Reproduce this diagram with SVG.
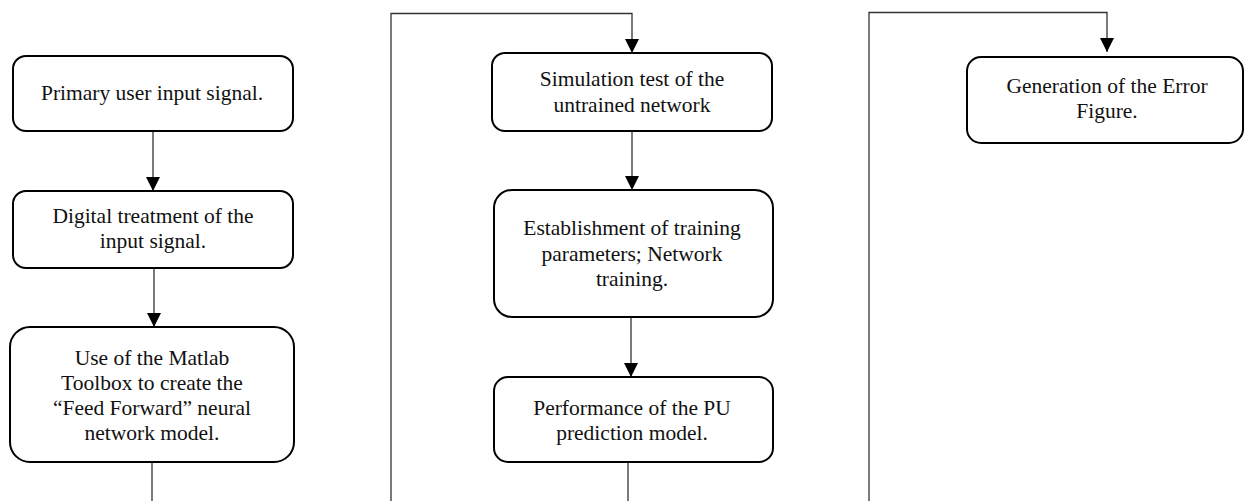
<svg xmlns="http://www.w3.org/2000/svg" width="1245" height="501" viewBox="0 0 1245 501">
<style>
.box{fill:#fff;stroke:#000;stroke-width:2}
.t{font-family:"Liberation Serif","Times New Roman",serif;font-size:21.5px;fill:#111;text-anchor:middle}
.c{fill:none;stroke:#333;stroke-width:1.3}
</style>
<defs>
<marker id="ah" markerWidth="14" markerHeight="14" refX="14" refY="7" orient="auto" markerUnits="userSpaceOnUse">
<path d="M0,0 L14,7 L0,14 Z" fill="#000"/>
</marker>
</defs>
<rect width="1245" height="501" fill="#fff"/>
<g id="connectors">
<line class="c" x1="153" y1="131" x2="153" y2="191" marker-end="url(#ah)"/>
<line class="c" x1="154" y1="268" x2="154" y2="327" marker-end="url(#ah)"/>
<line class="c" x1="152" y1="462" x2="152" y2="501"/>
<polyline class="c" points="391,501 391,13.5 632,13.5 632,53" marker-end="url(#ah)"/>
<line class="c" x1="632" y1="131" x2="632" y2="190" marker-end="url(#ah)"/>
<line class="c" x1="631" y1="317" x2="631" y2="377" marker-end="url(#ah)"/>
<line class="c" x1="628" y1="462" x2="628" y2="501"/>
<polyline class="c" points="869,501 869,12.5 1107,12.5 1107,52" marker-end="url(#ah)"/>
</g>
<g id="n1">
<rect class="box" x="13" y="56" width="280" height="75" rx="13"/>
<text class="t" x="152" y="100">Primary user input signal.</text>
</g>
<g id="n2">
<rect class="box" x="13" y="191" width="280" height="77" rx="13"/>
<text class="t" x="153" y="223">Digital treatment of the</text>
<text class="t" x="153" y="248">input signal.</text>
</g>
<g id="n3">
<rect class="box" x="10" y="327" width="284" height="135" rx="20"/>
<text class="t" x="152" y="365">Use of the Matlab</text>
<text class="t" x="152" y="390">Toolbox to create the</text>
<text class="t" x="152" y="415">“Feed Forward” neural</text>
<text class="t" x="152" y="440">network model.</text>
</g>
<g id="n4">
<rect class="box" x="492" y="53" width="280" height="78" rx="13"/>
<text class="t" x="632" y="86">Simulation test of the</text>
<text class="t" x="632" y="112">untrained network</text>
</g>
<g id="n5">
<rect class="box" x="494" y="190" width="279" height="127" rx="18"/>
<text class="t" x="632" y="235">Establishment of training</text>
<text class="t" x="632" y="261">parameters; Network</text>
<text class="t" x="632" y="286">training.</text>
</g>
<g id="n6">
<rect class="box" x="494" y="377" width="279" height="85" rx="14"/>
<text class="t" x="632" y="415">Performance of the PU</text>
<text class="t" x="632" y="440">prediction model.</text>
</g>
<g id="n7">
<rect class="box" x="967" y="57" width="276" height="86" rx="14"/>
<text class="t" x="1107" y="93">Generation of the Error</text>
<text class="t" x="1107" y="118">Figure.</text>
</g>
</svg>
